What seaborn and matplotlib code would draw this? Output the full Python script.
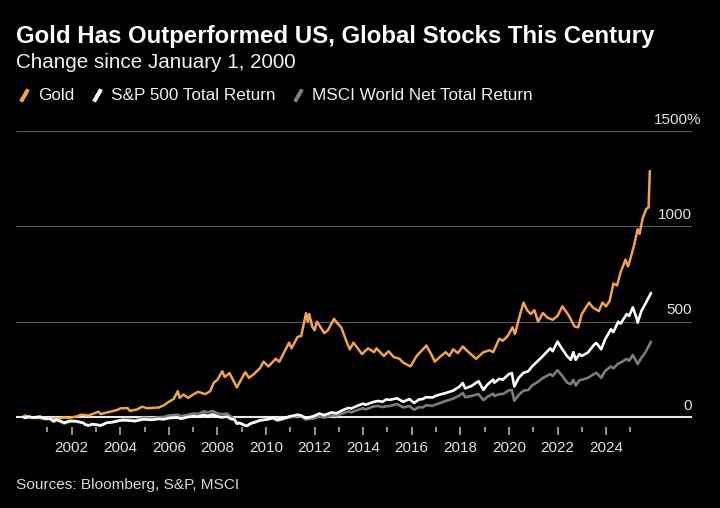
import matplotlib
matplotlib.use("Agg")
import matplotlib.pyplot as plt
from matplotlib.lines import Line2D
import pandas as pd
import seaborn as sns

# ---------------- data (% change since 1 Jan 2000) --------
gold_years = [2000.0, 2000.1, 2000.3, 2000.6, 2000.9, 2001.2, 2001.5, 2001.7, 2001.9,
              2002.2, 2002.4, 2002.7, 2002.95, 2003.1, 2003.2, 2003.4, 2003.6, 2003.9,
              2004.0, 2004.3, 2004.4, 2004.7, 2004.9, 2005.1, 2005.4, 2005.6, 2005.8,
              2005.95, 2006.2, 2006.37, 2006.45, 2006.6, 2006.8, 2007.0, 2007.2, 2007.5,
              2007.7, 2007.85, 2008.0, 2008.2, 2008.3, 2008.5, 2008.6, 2008.8, 2008.95,
              2009.15, 2009.3, 2009.5, 2009.75, 2009.9, 2010.1, 2010.4, 2010.55, 2010.75,
              2010.95, 2011.05, 2011.3, 2011.45, 2011.65, 2011.72, 2011.78, 2011.9, 2012.0,
              2012.1, 2012.4, 2012.55, 2012.8, 2012.95, 2013.1, 2013.3, 2013.45, 2013.6,
              2013.75, 2013.95, 2014.2, 2014.45, 2014.55, 2014.85, 2015.05, 2015.25, 2015.5,
              2015.65, 2015.95, 2016.2, 2016.5, 2016.6, 2016.8, 2016.95, 2017.2, 2017.4,
              2017.55, 2017.7, 2017.9, 2018.1, 2018.3, 2018.65, 2018.95, 2019.2, 2019.35,
              2019.6, 2019.75, 2019.95, 2020.15, 2020.25, 2020.4, 2020.6, 2020.75, 2020.9,
              2021.05, 2021.2, 2021.4, 2021.6, 2021.8, 2022.0, 2022.2, 2022.45, 2022.7,
              2022.85, 2023.0, 2023.3, 2023.45, 2023.7, 2023.85, 2024.0, 2024.15, 2024.3,
              2024.45, 2024.6, 2024.8, 2024.9, 2025.0, 2025.15, 2025.3, 2025.38, 2025.5,
              2025.65, 2025.75, 2025.8]
gold_pct = [0, 8, -3, -5, -6, -10, -7, -3, -5,
            3, 12, 8, 20, 28, 15, 22, 28, 38,
            45, 47, 32, 40, 54, 46, 48, 50, 62,
            75, 95, 135, 100, 118, 100, 118, 132, 120,
            135, 180, 195, 240, 210, 230, 205, 155, 190,
            235, 205, 225, 255, 290, 265, 305, 290, 340,
            390, 360, 420, 425, 545, 500, 540, 475, 455,
            500, 440, 455, 515, 490, 470, 400, 355, 390,
            365, 330, 360, 340, 360, 320, 345, 315, 305,
            285, 265, 320, 360, 375, 330, 290, 320, 340,
            320, 355, 335, 370, 345, 305, 340, 350, 340,
            410, 400, 425, 470, 435, 510, 600, 560, 540,
            560, 500, 545, 520, 510, 530, 580, 535, 475,
            470, 540, 600, 575, 555, 600, 580, 610, 700,
            690, 760, 825, 790, 830, 900, 985, 960, 1040,
            1090, 1100, 1290]

stock_years = [2000.0, 2000.1, 2000.25, 2000.4, 2000.7, 2000.8, 2000.95, 2001.1, 2001.25,
               2001.4, 2001.7, 2001.8, 2001.95, 2002.2, 2002.5, 2002.55, 2002.7, 2002.85,
               2003.0, 2003.2, 2003.45, 2003.7, 2003.95, 2004.1, 2004.4, 2004.6, 2004.95,
               2005.3, 2005.6, 2005.8, 2006.0, 2006.35, 2006.5, 2006.8, 2007.0, 2007.2,
               2007.45, 2007.6, 2007.8, 2007.95, 2008.15, 2008.4, 2008.55, 2008.7, 2008.8,
               2008.9, 2009.0, 2009.2, 2009.35, 2009.55, 2009.75, 2010.0, 2010.3, 2010.45,
               2010.6, 2010.85, 2011.0, 2011.3, 2011.45, 2011.65, 2011.75, 2011.95, 2012.2,
               2012.4, 2012.7, 2012.9, 2013.2, 2013.4, 2013.5, 2013.75, 2014.0, 2014.1,
               2014.4, 2014.6, 2014.8, 2014.95, 2015.1, 2015.4, 2015.65, 2015.9, 2016.1,
               2016.3, 2016.45, 2016.6, 2016.85, 2017.0, 2017.4, 2017.7, 2017.95, 2018.1,
               2018.2, 2018.45, 2018.75, 2018.95, 2019.1, 2019.35, 2019.4, 2019.6, 2019.75,
               2020.0, 2020.12, 2020.22, 2020.4, 2020.6, 2020.8, 2020.95, 2021.2, 2021.4,
               2021.7, 2021.8, 2022.0, 2022.2, 2022.4, 2022.55, 2022.65, 2022.75, 2022.9,
               2023.0, 2023.25, 2023.5, 2023.6, 2023.8, 2023.95, 2024.2, 2024.3, 2024.5,
               2024.6, 2024.85, 2024.95, 2025.1, 2025.25, 2025.3, 2025.45, 2025.6, 2025.85]
spx_pct = [0, -5, 2, -3, 2, -5, -9, -8, -22,
           -14, -30, -25, -20, -22, -32, -40, -44, -37,
           -40, -44, -30, -27, -20, -17, -19, -22, -12,
           -15, -10, -12, -6, -3, -9, 0, 4, 2,
           12, 6, 14, 6, -2, 2, -10, -14, -35,
           -32, -36, -48, -35, -28, -18, -14, -4, -14,
           -12, -2, 4, 12, 8, -6, -3, 4, 18,
           10, 24, 20, 38, 48, 44, 58, 70, 64,
           78, 84, 80, 92, 90, 98, 80, 94, 74,
           92, 94, 104, 102, 112, 126, 138, 158, 178,
           150, 162, 188, 142, 168, 196, 180, 200, 196,
           225, 230, 160, 205, 232, 240, 265, 295, 320,
           360, 345, 395, 355, 318, 300, 340, 300, 330,
           320, 338, 378, 388, 355, 405, 460, 445, 500,
           490, 540, 530, 575, 520, 495, 555, 590, 650]
msci_pct = [0, 0, 0, -4, -3, -6, -12, -10, -24,
            -18, -34, -29, -25, -25, -32, -38, -45, -39,
            -41, -45, -30, -25, -17, -13, -14, -17, -5,
            -7, -2, 0, 8, 12, 5, 12, 18, 16,
            30, 24, 32, 22, 14, 18, 2, -10, -32,
            -30, -35, -50, -35, -24, -16, -14, -8, -20,
            -15, -6, -2, 6, 2, -14, -10, -9, 4,
            -4, 8, 8, 20, 30, 24, 36, 46, 40,
            54, 58, 52, 56, 58, 68, 50, 58, 38,
            52, 50, 62, 58, 66, 84, 96, 112, 126,
            104, 110, 120, 88, 105, 122, 110, 120, 120,
            140, 142, 85, 115, 138, 142, 165, 185, 205,
            225, 215, 245, 215, 180, 172, 195, 165, 192,
            195, 205, 225, 232, 205, 240, 265, 255, 280,
            285, 305, 295, 325, 290, 278, 310, 335, 395]

series_names = ["Gold", "S&P 500 Total Return", "MSCI World Net Total Return"]
series_colors = ["#f2a24a", "#ffffff", "#7c7c7c"]
y_ticks = [0, 500, 1000, 1500]
x_major = list(range(2002, 2025, 2))
x_minor = list(range(2001, 2026, 2))

gold_df = pd.DataFrame({"year": gold_years, "pct": gold_pct})
spx_df = pd.DataFrame({"year": stock_years, "pct": spx_pct})
msci_df = pd.DataFrame({"year": stock_years, "pct": msci_pct})

# ---------------- plot ----------------
sns.set_style("dark", {"axes.facecolor": "black", "figure.facecolor": "black"})
plt.rcParams['font.family'] = ['Liberation Sans', 'DejaVu Sans']

fig = plt.figure(figsize=(7.2, 5.08), dpi=100, facecolor="black")
ax = fig.add_axes([0.0229, 0.1585, 0.938, 0.5837])
ax.set_facecolor("black")

for v in y_ticks[1:]:
    ax.axhline(v, color="#555555", lw=0.9, zorder=1)
ax.axhline(0, color="#e8e8e8", lw=1.5, zorder=1)

sns.lineplot(data=msci_df, x="year", y="pct", color=series_colors[2], lw=1.9, ax=ax, zorder=2)
sns.lineplot(data=gold_df, x="year", y="pct", color=series_colors[0], lw=1.8, ax=ax, zorder=3)
sns.lineplot(data=spx_df, x="year", y="pct", color=series_colors[1], lw=1.9, ax=ax, zorder=4)

ax.set_xlim(1999.73, 2027.53)
ax.set_ylim(-55, 1500)
for s in ax.spines.values():
    s.set_visible(False)
ax.set_xlabel("")
ax.set_ylabel("")
ax.grid(False)

ax.set_xticks(x_major)
ax.set_xticklabels([str(y) for y in x_major])
ax.set_xticks(x_minor, minor=True)
ax.tick_params(axis="x", which="major", bottom=True, length=6, width=1.1, color="#bbbbbb",
               labelcolor="#e0e0e0", labelsize=11, pad=4)
ax.tick_params(axis="x", which="minor", bottom=True, length=3.5, width=1.1, color="#bbbbbb")
ax.set_yticks([])

# right side value labels sitting above the lines
for v in y_ticks:
    lab = f"{v}%" if v == y_ticks[-1] else str(v)
    dx = 6.5 if v == y_ticks[-1] else 0
    ax.annotate(lab, xy=(1, v), xycoords=("axes fraction", "data"),
                xytext=(dx, 3), textcoords="offset points",
                ha="right", va="bottom", color="#e0e0e0", fontsize=11)

# ---------------- titles, legend, source ----------------
fig.text(0.022, 1 - 37 / 508, "Gold Has Outperformed US, Global Stocks This Century",
         color="white", fontsize=17.3, fontweight="bold", va="center")
fig.text(0.022, 1 - 62 / 508, "Change since January 1, 2000",
         color="#f0f0f0", fontsize=14.9, va="center")

handles = [Line2D([], [], lw=0, marker=(2, 2, -30), markersize=10, markeredgewidth=2.6,
                  color=c) for c in series_colors]
leg = fig.legend(handles, series_names, loc="center left", bbox_to_anchor=(0.002, 1 - 96 / 508),
                 ncol=3, frameon=False, fontsize=12.3, handlelength=0.8, handletextpad=0.45,
                 columnspacing=0.9, labelcolor="#f0f0f0")

fig.text(0.022, 1 - 485 / 508, "Sources: Bloomberg, S&P, MSCI",
         color="#d8d8d8", fontsize=11.1, va="center")

plt.savefig("out.png", dpi=100, facecolor="black")
